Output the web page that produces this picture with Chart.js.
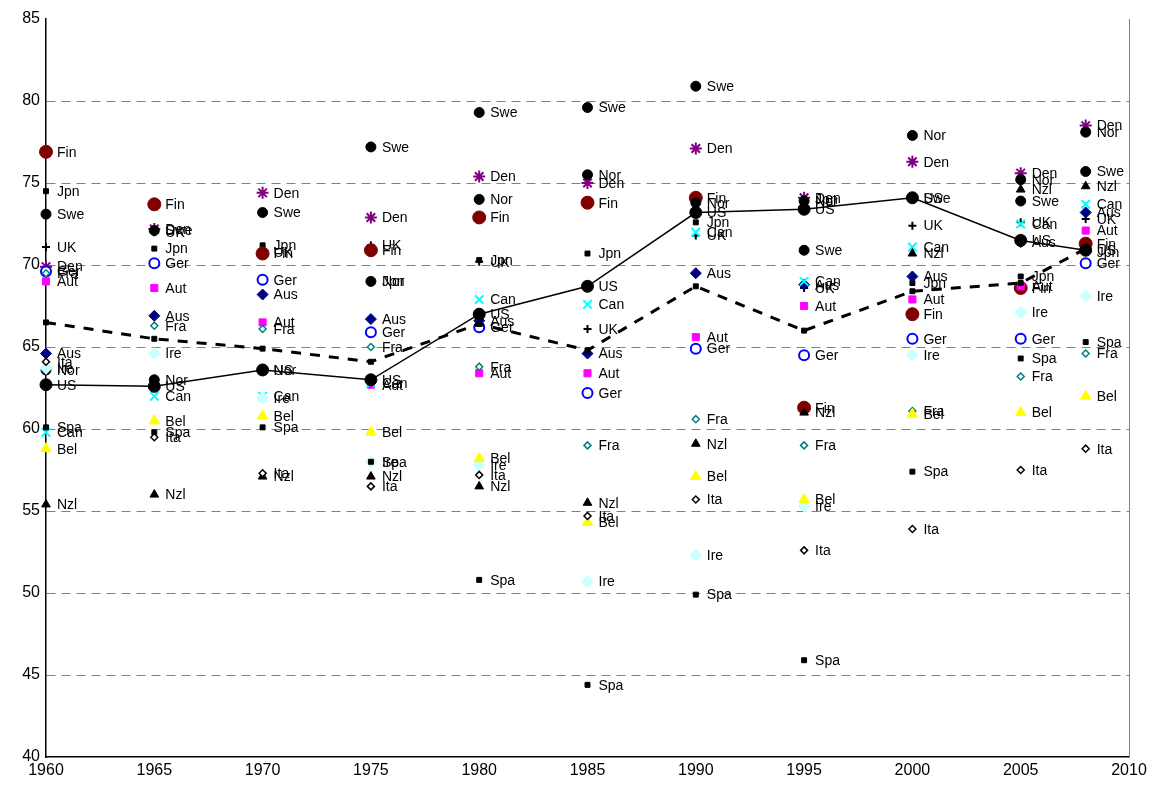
<!DOCTYPE html>
<html>
<head>
<meta charset="utf-8">
<script src="https://cdn.jsdelivr.net/npm/chart.js@4"></script>
<style>
html,body{margin:0;padding:0;background:#fff;}
#wrap{width:1153px;height:791px;}
</style>
</head>
<body>
<div id="wrap"><canvas id="c" width="1153" height="791"></canvas></div>
<script>
const years = [1960,1965,1970,1975,1980,1985,1990,1995,2000,2005,2008];
const yTicks = [40,45,50,55,60,65,70,75,80,85];
const xTicks = [1960,1965,1970,1975,1980,1985,1990,1995,2000,2005,2010];

const fin = [76.9,73.7,70.7,70.9,72.9,73.8,74.1,61.3,67.0,68.6,71.3];
const jpn = [74.5,71.0,71.2,69.0,70.3,70.7,72.6,74.0,68.9,69.3,70.8];
const swe = [73.1,72.1,73.2,77.2,79.3,79.6,80.9,70.9,74.1,73.9,75.7];
const uk  = [71.1,72.0,70.8,71.2,70.2,66.1,71.8,68.6,72.4,72.6,72.8];
const den = [69.9,72.2,74.4,72.9,75.4,75.0,77.1,74.1,76.3,75.6,78.5];
const ger = [69.6,70.1,69.1,65.9,66.2,62.2,64.9,64.5,65.5,65.5,70.1];
const fra = [69.5,66.3,66.1,65.0,63.8,59.0,60.6,59.0,61.1,63.2,64.6];
const aut = [69.0,68.6,66.5,62.7,63.4,63.4,65.6,67.5,67.9,68.7,72.1];
const aus = [64.6,66.9,68.2,66.7,66.6,64.6,69.5,68.8,69.3,71.4,73.2];
const ita = [64.1,59.5,57.3,56.5,57.2,54.7,55.7,52.6,53.9,57.5,58.8];
const ire = [63.7,64.6,61.9,58.0,57.8,50.7,52.3,55.3,64.5,67.1,68.1];
const nor = [63.6,63.0,63.6,69.0,74.0,75.5,73.8,73.9,77.9,75.2,78.1];
const us  = [62.7,62.6,63.6,63.0,67.0,68.7,73.2,73.4,74.1,71.5,70.9];
const spa = [60.1,59.8,60.1,58.0,50.8,44.4,49.9,45.9,57.4,64.3,65.3];
const can = [59.8,62.0,62.0,62.8,67.9,67.6,72.0,69.0,71.1,72.5,73.7];
const bel = [58.8,60.5,60.8,59.8,58.2,54.3,57.1,55.7,60.9,61.0,62.0];
const nzl = [55.4,56.0,57.1,57.1,56.5,55.5,59.1,61.0,70.7,74.6,74.8];
const avg = [66.5,65.5,64.9,64.1,66.4,64.8,68.7,66.0,68.4,68.9,71.0];

const pts = arr => arr.map((v,i)=>({x:years[i], y:v}));

function mk(label, data, style, color, radius, fill, bw){
  return {
    label: label, data: pts(data), showLine: false, clip: false,
    pointStyle: style, pointRadius: radius, pointHoverRadius: radius,
    borderColor: color, backgroundColor: fill, pointBackgroundColor: fill,
    pointBorderColor: color, pointBorderWidth: bw, tagged: true
  };
}

const datasets = [
  {label:'avg', data: pts(avg), showLine:true, clip:false, borderColor:'#000', borderWidth:3,
   borderDash:[10,9], pointStyle:'rect', pointRadius:3.5, pointBackgroundColor:'#000',
   pointBorderColor:'#000', pointBorderWidth:1, tension:0, tagged:false},
  {label:'US', data: pts(us), showLine:true, clip:false, borderColor:'#000', borderWidth:1.5,
   pointStyle:'circle', pointRadius:6, pointBackgroundColor:'#000', pointBorderColor:'#000',
   pointBorderWidth:1, tension:0, tagged:true},
  mk('Ita', ita, 'rectRot', '#000', 3.5, '#fff', 1.5),
  mk('Spa', spa, 'rect', '#000', 3.5, '#000', 1),
  mk('Nzl', nzl, 'triangle', '#000', 5, '#000', 1),
  mk('Bel', bel, 'triangle', '#FFFF00', 6, '#FFFF00', 1),
  mk('Ire', ire, 'rectRot', '#CCFFFF', 6, '#CCFFFF', 1),
  mk('Can', can, 'crossRot', '#00FFFF', 6, '#00FFFF', 2),
  mk('Fra', fra, 'rectRot', '#008080', 3.5, '#fff', 1.5),
  mk('Aut', aut, 'rect', '#FF00FF', 5, '#FF00FF', 1),
  mk('Ger', ger, 'circle', '#0000FF', 5, '#fff', 2),
  mk('Aus', aus, 'rectRot', '#000080', 5.5, '#000080', 1),
  mk('Nor', nor, 'circle', '#000', 5, '#000', 1),
  mk('Swe', swe, 'circle', '#000', 5, '#000', 1),
  mk('Fin', fin, 'circle', '#800000', 6.5, '#800000', 1),
  mk('UK', uk, 'cross', '#000', 4, '#000', 2),
  mk('Jpn', jpn, 'rect', '#000', 3.5, '#000', 1),
  mk('Den', den, 'star', '#800080', 6, '#800080', 2)
];

const labelPlugin = {
  id: 'pointLabels',
  afterDatasetsDraw(chart){
    const ctx = chart.ctx;
    ctx.save();
    ctx.font = '14px "Liberation Sans", Arial, sans-serif';
    ctx.fillStyle = '#000';
    ctx.textAlign = 'left';
    ctx.textBaseline = 'middle';
    chart.data.datasets.forEach((ds, di) => {
      if (!ds.tagged) return;
      const meta = chart.getDatasetMeta(di);
      meta.data.forEach(pt => {
        ctx.fillText(ds.label, pt.x + 11, pt.y + 1);
      });
    });
    ctx.restore();
  }
};

const frame = {
  id: 'frame',
  beforeDatasetsDraw(chart){
    const {ctx, chartArea:a} = chart;
    ctx.save();
    ctx.strokeStyle = '#808080';
    ctx.lineWidth = 1;
    ctx.beginPath();
    ctx.moveTo(Math.round(a.right)+0.5, a.top);
    ctx.lineTo(Math.round(a.right)+0.5, a.bottom);
    ctx.stroke();
    ctx.restore();
  }
};

new Chart(document.getElementById('c'), {
  type: 'scatter',
  data: { datasets: datasets },
  options: {
    responsive: false,
    animation: false,
    events: [],
    layout: { padding: { top: 19, right: 24, left: 0, bottom: 0 } },
    plugins: { legend: { display: false }, tooltip: { enabled: false } },
    scales: {
      x: {
        type: 'linear', min: 1960, max: 2010,
        afterBuildTicks: s => { s.ticks = xTicks.map(v => ({value: v})); },
        afterFit: s => { s.height = 34; },
        ticks: { color: '#000', font: { family: '"Liberation Sans", Arial', size: 16 },
                 padding: 4, maxRotation: 0, callback: v => String(v) },
        grid: { display: false, drawTicks: false },
        border: { display: true, color: '#000', width: 1.5 }
      },
      y: {
        min: 40, max: 85,
        afterBuildTicks: s => { s.ticks = yTicks.map(v => ({value: v})); },
        afterFit: s => { s.width = 46; },
        ticks: { color: '#000', font: { family: '"Liberation Sans", Arial', size: 16 },
                 padding: 6 },
        grid: { drawTicks: false, lineWidth: 1,
                color: c => (c.tick && (c.tick.value === 85 || c.tick.value === 40)) ? 'rgba(0,0,0,0)' : '#808080' },
        border: { display: true, color: '#000', width: 1.5, dash: [9, 6] }
      }
    }
  },
  plugins: [frame, labelPlugin]
});
</script>
</body>
</html>
